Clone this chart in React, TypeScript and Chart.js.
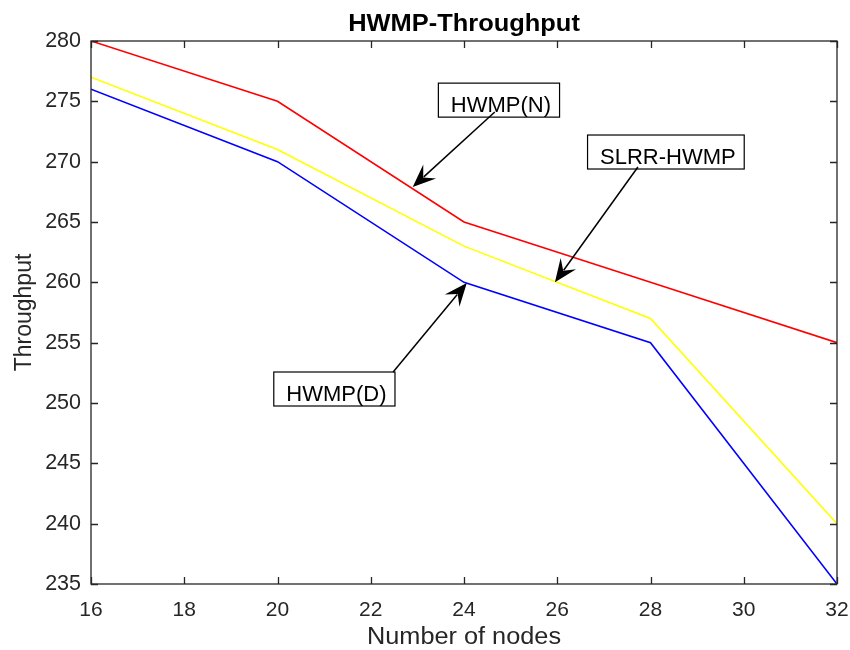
import React, { useEffect, useRef } from "react";
import { Chart, registerables } from "chart.js";

Chart.register(...registerables);

const nodes = [16, 20, 24, 28, 32];
const hwmpN = [280, 275, 265, 260, 255];
const slrrHwmp = [277, 271, 263, 257, 240];
const hwmpD = [276, 270, 260, 255, 235];

const xTicks = [16, 18, 20, 22, 24, 26, 28, 30, 32];
const yTicks = [235, 240, 245, 250, 255, 260, 265, 270, 275, 280];

const chartTitle = "HWMP-Throughput";
const xTitle = "Number of nodes";
const yTitle = "Throughput";

// annotations: label, box center (data), arrow tail (data), arrow tip (data)
const annLabels = ["HWMP(N)", "SLRR-HWMP", "HWMP(D)"];
const annBoxX = [24.75, 28.33, 21.22];
const annBoxY = [275.1, 270.8, 251.16];
const annTailX = [24.66, 27.73, 22.48];
const annTailY = [274.12, 269.56, 252.57];
const annTipX = [22.9, 25.95, 24.06];
const annTipY = [267.9, 260.0, 259.95];

const FONT = "'Liberation Sans', Arial, sans-serif";
const AX = "#262626";

const overlay = {
  id: "overlay",
  afterDatasetsDraw(chart: any) {
    const { ctx, chartArea: a, scales } = chart;
    const xs = scales.x;
    const ys = scales.y;
    ctx.save();
    // box
    ctx.strokeStyle = AX;
    ctx.lineWidth = 1.3;
    ctx.strokeRect(a.left, a.top, a.right - a.left, a.bottom - a.top);
    const tl = 7;
    ctx.beginPath();
    for (const t of xTicks) {
      const px = Math.round(xs.getPixelForValue(t)) + 0.5;
      ctx.moveTo(px, a.bottom);
      ctx.lineTo(px, a.bottom - tl);
      ctx.moveTo(px, a.top);
      ctx.lineTo(px, a.top + tl);
    }
    for (const t of yTicks) {
      const py = Math.round(ys.getPixelForValue(t)) + 0.5;
      ctx.moveTo(a.left, py);
      ctx.lineTo(a.left + tl, py);
      ctx.moveTo(a.right, py);
      ctx.lineTo(a.right - tl, py);
    }
    ctx.stroke();

    // titles
    ctx.textAlign = "center";
    ctx.textBaseline = "alphabetic";
    ctx.fillStyle = "#000";
    ctx.font = `bold 24px ${FONT}`;
    ctx.save();
    ctx.translate((a.left + a.right) / 2, 31);
    ctx.scale(1.06, 1);
    ctx.fillText(chartTitle, 0, 0);
    ctx.restore();
    ctx.fillStyle = AX;
    ctx.font = `23px ${FONT}`;
    ctx.save();
    ctx.translate((a.left + a.right) / 2, 644);
    ctx.scale(1.1, 1);
    ctx.fillText(xTitle, 0, 0);
    ctx.restore();
    ctx.save();
    ctx.translate(31, (a.top + a.bottom) / 2);
    ctx.rotate(-Math.PI / 2);
    ctx.fillText(yTitle, 0, 0);
    ctx.restore();

    // annotations
    for (let i = 0; i < annLabels.length; i++) {
      ctx.font = `22px ${FONT}`;
      const w = ctx.measureText(annLabels[i]).width + 21;
      const h = 34;
      const cx = xs.getPixelForValue(annBoxX[i]);
      const cy = ys.getPixelForValue(annBoxY[i]);
      ctx.fillStyle = "#fff";
      ctx.fillRect(cx - w / 2, cy - h / 2, w, h);
      ctx.strokeStyle = "#000";
      ctx.lineWidth = 1.2;
      ctx.strokeRect(cx - w / 2, cy - h / 2, w, h);
      ctx.fillStyle = "#000";
      ctx.textAlign = "center";
      ctx.textBaseline = "alphabetic";
      ctx.fillText(annLabels[i], cx + 2, cy + 12);

      const x0 = xs.getPixelForValue(annTailX[i]);
      const y0 = ys.getPixelForValue(annTailY[i]);
      const x1 = xs.getPixelForValue(annTipX[i]);
      const y1 = ys.getPixelForValue(annTipY[i]);
      const ang = Math.atan2(y1 - y0, x1 - x0);
      const L = 23;
      const W = 9.5;
      const ux = Math.cos(ang);
      const uy = Math.sin(ang);
      const nx = -uy;
      const ny = ux;
      ctx.strokeStyle = "#000";
      ctx.lineWidth = 1.5;
      ctx.beginPath();
      ctx.moveTo(x0, y0);
      ctx.lineTo(x1 - ux * L * 0.65, y1 - uy * L * 0.65);
      ctx.stroke();
      ctx.beginPath();
      ctx.moveTo(x1, y1);
      ctx.lineTo(x1 - ux * L + nx * W, y1 - uy * L + ny * W);
      ctx.lineTo(x1 - ux * L * 0.62, y1 - uy * L * 0.62);
      ctx.lineTo(x1 - ux * L - nx * W, y1 - uy * L - ny * W);
      ctx.closePath();
      ctx.fillStyle = "#000";
      ctx.fill();
    }
    ctx.restore();
  },
};

export default function App() {
  const ref = useRef<HTMLCanvasElement>(null);
  useEffect(() => {
    document.body.style.margin = "0";
    const mk = (vals: number[]) => nodes.map((x, i) => ({ x, y: vals[i] }));
    const ds = (label: string, vals: number[], color: string) => ({
      label,
      data: mk(vals),
      borderColor: color,
      backgroundColor: color,
      borderWidth: 1.6,
      pointRadius: 0,
      tension: 0,
    });
    const chart = new Chart(ref.current!, {
      type: "line",
      data: {
        datasets: [
          ds("HWMP(N)", hwmpN, "#ff0000"),
          ds("SLRR-HWMP", slrrHwmp, "#ffff00"),
          ds("HWMP(D)", hwmpD, "#0000ff"),
        ],
      },
      options: {
        responsive: false,
        animation: false,
        layout: { padding: { top: 41, right: 13, left: 0, bottom: 0 } },
        plugins: { legend: { display: false }, title: { display: false }, tooltip: { enabled: false } },
        scales: {
          x: {
            type: "linear",
            min: 16,
            max: 32,
            grid: { display: false, drawTicks: false },
            border: { display: false },
            afterFit: (s: any) => {
              s.height = 66;
              s.paddingLeft = 0;
              s.paddingRight = 0;
            },
            afterBuildTicks: (s: any) => {
              s.ticks = xTicks.map((v) => ({ value: v }));
            },
            ticks: {
              padding: 14,
              color: AX,
              font: { family: FONT, size: 21 },
              maxRotation: 0,
              autoSkip: false,
            },
          },
          y: {
            type: "linear",
            min: 235,
            max: 280,
            grid: { display: false, drawTicks: false },
            border: { display: false },
            afterFit: (s: any) => {
              s.width = 91;
              s.paddingTop = 0;
              s.paddingBottom = 0;
            },
            afterBuildTicks: (s: any) => {
              s.ticks = yTicks.map((v) => ({ value: v }));
            },
            ticks: {
              padding: 10,
              color: AX,
              font: { family: FONT, size: 21.5 },
              autoSkip: false,
            },
          },
        },
      },
      plugins: [overlay],
    });
    return () => chart.destroy();
  }, []);
  return (
    <div style={{ width: 850, height: 650 }}>
      <canvas ref={ref} width={850} height={650} style={{ display: "block" }} />
    </div>
  );
}
